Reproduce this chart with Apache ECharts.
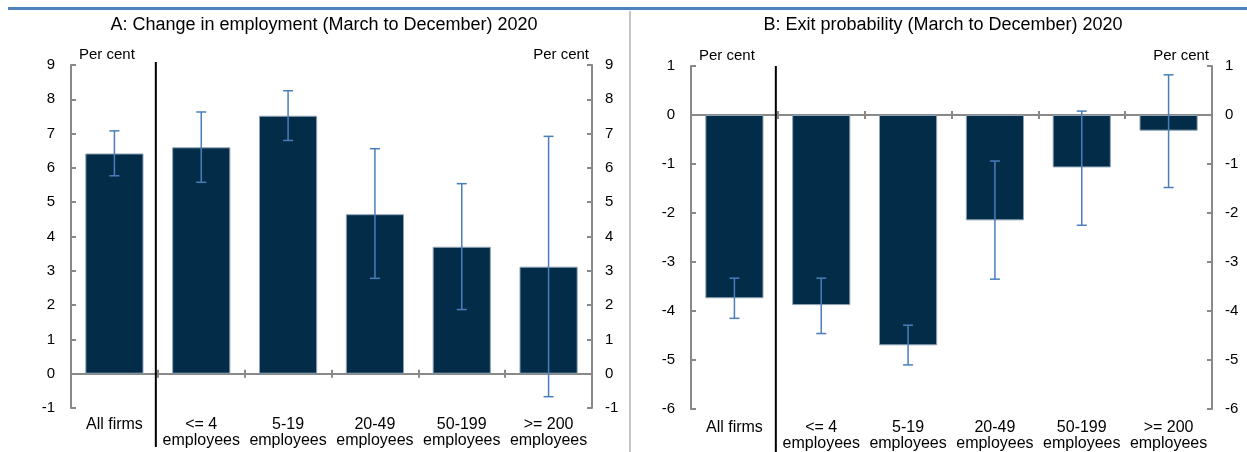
<!DOCTYPE html>
<html>
<head>
<meta charset="utf-8">
<title>Employment and exit probability by firm size</title>
<script src="https://cdn.jsdelivr.net/npm/echarts@6/dist/echarts.min.js"></script>
<style>
    html, body { margin: 0; padding: 0; background: #fff; }
    #main { width: 1247px; height: 452px; }
</style>
</head>
<body>
<div id="main"></div>
<script>
// categories (firm size)
var categories = ['All firms', '<= 4\nemployees', '5-19\nemployees', '20-49\nemployees', '50-199\nemployees', '>= 200\nemployees'];

// A: change in employment, per cent
var empChange = [6.42, 6.60, 7.52, 4.65, 3.70, 3.12];
var empLow = [5.77, 5.58, 6.80, 2.78, 1.87, -0.67];
var empHigh = [7.08, 7.63, 8.25, 6.56, 5.54, 6.92];

// B: exit probability, per cent
var exitProb = [-3.74, -3.88, -4.70, -2.15, -1.07, -0.32];
var exitLow = [-4.15, -4.46, -5.10, -3.35, -2.25, -1.48];
var exitHigh = [-3.33, -3.33, -4.29, -0.94, 0.08, 0.82];

// axis ranges / titles
var titleA = 'A: Change in employment (March to December) 2020';
var titleB = 'B: Exit probability (March to December) 2020';
var rangeA = [-1, 9];
var rangeB = [-6, 1];

var FONT = 'Liberation Sans, Arial, sans-serif';
var axisGray = '#898989';
var barColor = '#032c48';
var errColor = '#4a7ebb';

var myChart = echarts.init(document.getElementById('main'), null, {renderer: 'canvas'});

function errData(low, high) {
    var out = [];
    for (var i = 0; i < low.length; i++) {
        out.push([i, low[i], high[i]]);
    }
    return out;
}

// vertical error bar with small caps
function renderErr(params, api) {
    var lo = api.coord([api.value(0), api.value(1)]);
    var hi = api.coord([api.value(0), api.value(2)]);
    var cap = 5;
    var st = {stroke: errColor, lineWidth: 1.5};
    return {
        type: 'group',
        children: [
            {type: 'line', shape: {x1: lo[0], y1: lo[1], x2: hi[0], y2: hi[1]}, style: st},
            {type: 'line', shape: {x1: lo[0] - cap, y1: lo[1], x2: lo[0] + cap, y2: lo[1]}, style: st},
            {type: 'line', shape: {x1: hi[0] - cap, y1: hi[1], x2: hi[0] + cap, y2: hi[1]}, style: st}
        ]
    };
}

function yAxisOf(grid, pos, range) {
    return {
        type: 'value',
        gridIndex: grid,
        position: pos,
        min: range[0],
        max: range[1],
        interval: 1,
        name: 'Per cent',
        nameLocation: 'end',
        nameGap: 3,
        nameTextStyle: {
            fontFamily: FONT, fontSize: 15, color: '#000',
            align: pos == 'left' ? 'left' : 'right',
            verticalAlign: 'bottom',
            padding: pos == 'left' ? [0, 0, 0, 8] : [0, 3, 0, 0]
        },
        axisLine: {show: true, lineStyle: {color: axisGray, width: 2}},
        axisTick: {show: true, inside: true, length: 5, lineStyle: {color: axisGray, width: 2}},
        axisLabel: {fontFamily: FONT, fontSize: 15, color: '#000', margin: pos == 'left' ? 16 : 13},
        splitLine: {show: false}
    };
}

// bottom axis: zero line, downward ticks, labels under the grid
function xAxisBottom(grid, labelMargin) {
    return {
        type: 'category',
        gridIndex: grid,
        position: 'bottom',
        data: categories,
        axisLine: {show: true, onZero: true, lineStyle: {color: axisGray, width: 2}},
        axisTick: {show: true, length: 4, lineStyle: {color: axisGray, width: 2}},
        axisLabel: {
            interval: 0, margin: labelMargin, fontFamily: FONT, fontSize: 16,
            color: '#000', lineHeight: 16, verticalAlign: 'top'
        }
    };
}

// top axis on zero, only for the upward half of the ticks
function xAxisTop(grid) {
    return {
        type: 'category',
        gridIndex: grid,
        position: 'top',
        data: categories,
        axisLine: {show: true, onZero: true, lineStyle: {color: axisGray, width: 2}},
        axisTick: {show: true, length: 4, lineStyle: {color: axisGray, width: 2}},
        axisLabel: {show: false}
    };
}

var option = {
    animation: false,
    backgroundColor: '#fff',
    title: [
        {text: titleA, left: 319, top: 11, textAlign: 'center',
            textStyle: {fontFamily: FONT, fontSize: 18, fontWeight: 'normal', color: '#000'}},
        {text: titleB, left: 938, top: 11, textAlign: 'center',
            textStyle: {fontFamily: FONT, fontSize: 18, fontWeight: 'normal', color: '#000'}}
    ],
    grid: [
        {left: 71, right: 655, top: 65, bottom: 44, containLabel: false, outerBoundsMode: 'none'},
        {left: 691, right: 35, top: 66, bottom: 43, containLabel: false, outerBoundsMode: 'none'}
    ],
    xAxis: [
        xAxisBottom(0, 9), xAxisTop(0),
        xAxisBottom(1, 11), xAxisTop(1)
    ],
    yAxis: [
        yAxisOf(0, 'left', rangeA), yAxisOf(0, 'right', rangeA),
        yAxisOf(1, 'left', rangeB), yAxisOf(1, 'right', rangeB)
    ],
    series: [
        {
            name: 'Change in employment', type: 'bar',
            xAxisIndex: 0, yAxisIndex: 0,
            data: empChange, barCategoryGap: '33%',
            itemStyle: {color: barColor, borderColor: '#8fa3b5', borderWidth: 1}
        },
        {
            name: 'Employment interval', type: 'custom',
            xAxisIndex: 0, yAxisIndex: 0,
            data: errData(empLow, empHigh), renderItem: renderErr, z: 5
        },
        {
            name: 'Exit probability', type: 'bar',
            xAxisIndex: 2, yAxisIndex: 2,
            data: exitProb, barCategoryGap: '33%',
            itemStyle: {color: barColor, borderColor: '#8fa3b5', borderWidth: 1}
        },
        {
            name: 'Exit interval', type: 'custom',
            xAxisIndex: 2, yAxisIndex: 2,
            data: errData(exitLow, exitHigh), renderItem: renderErr, z: 5
        }
    ]
};

myChart.setOption(option);

// frame lines and the black separator after "All firms"
var midA = (myChart.convertToPixel({xAxisIndex: 0}, 0) + myChart.convertToPixel({xAxisIndex: 0}, 1)) / 2 - 2;
var midB = (myChart.convertToPixel({xAxisIndex: 2}, 0) + myChart.convertToPixel({xAxisIndex: 2}, 1)) / 2 - 2;

myChart.setOption({
    graphic: [
        {type: 'line', shape: {x1: 8, y1: 8.5, x2: 1247, y2: 8.5}, style: {stroke: '#4f81bd', lineWidth: 3}, z: 10},
        {type: 'line', shape: {x1: 630, y1: 11, x2: 630, y2: 452}, style: {stroke: '#c4c4c4', lineWidth: 2}, z: 10},
        {type: 'line', shape: {x1: midA, y1: 62, x2: midA, y2: 447}, style: {stroke: '#000', lineWidth: 2}, z: 10},
        {type: 'line', shape: {x1: midB, y1: 66, x2: midB, y2: 452}, style: {stroke: '#000', lineWidth: 2}, z: 10}
    ]
});
</script>
</body>
</html>
